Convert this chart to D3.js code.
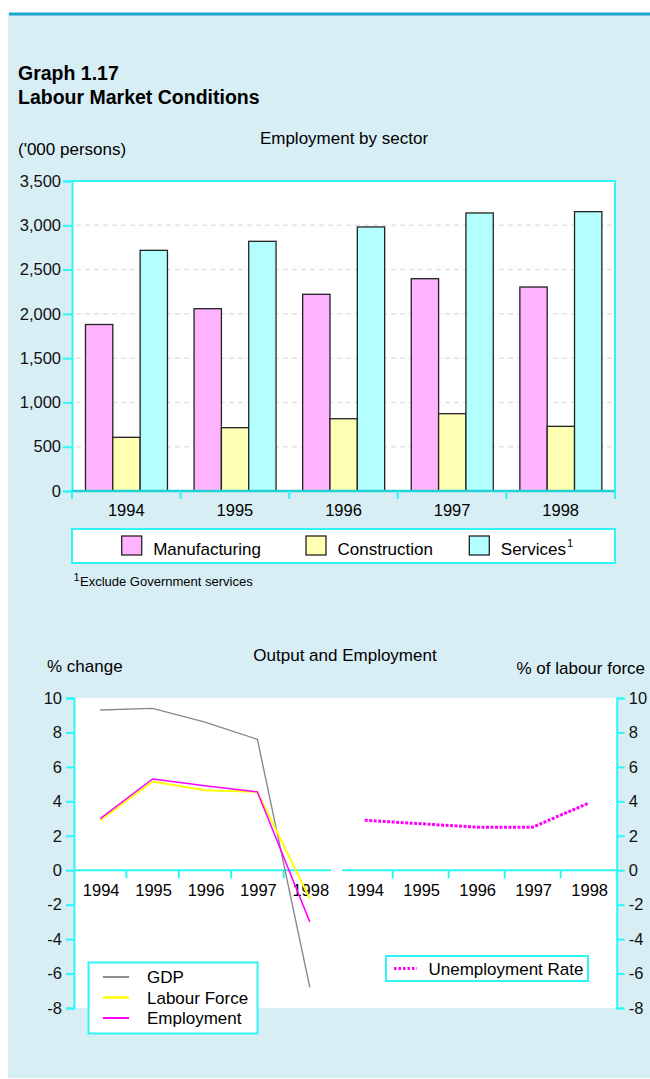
<!DOCTYPE html>
<html>
<head>
<meta charset="utf-8">
<script src="https://cdn.jsdelivr.net/npm/d3@7"></script>
<style>
  body { margin: 0; background: #fff; }
  svg { display: block; font-family: "Liberation Sans", Arial, sans-serif; }
</style>
</head>
<body>
<svg id="chart" width="650" height="1079"></svg>
<script>
// Chart values
const years = ["1994", "1995", "1996", "1997", "1998"];
const sectors = ["Manufacturing", "Construction", "Services"];
const manufacturing = [1880, 2058, 2221, 2397, 2303];
const construction = [606, 715, 816, 873, 730];
const services = [2717, 2819, 2981, 3139, 3154];
const sectorTicks = [0, 500, 1000, 1500, 2000, 2500, 3000, 3500];

const gdp = [9.3, 9.4, 8.6, 7.6, -6.8];
const labourForce = [2.9, 5.15, 4.65, 4.55, -1.65];
const employment = [3.0, 5.3, 4.9, 4.55, -3.0];
const unemployment = [2.9, 2.7, 2.5, 2.5, 3.9];
const pctTicks = [10, 8, 6, 4, 2, 0, -2, -4, -6, -8];

((() => {
  const svg = d3.select("#chart");
  const cyan = "#2ef6f6";
  const tickFont = "16.5px";
  const textFont = "17px";

  // panel background + top rule
  svg.append("rect").attr("x", 8).attr("y", 13).attr("width", 642).attr("height", 1065)
    .attr("fill", "#d8eef5");
  svg.append("line").attr("x1", 9).attr("x2", 650).attr("y1", 14).attr("y2", 14)
    .attr("stroke", "#18a4cc").attr("stroke-width", 3);

  svg.append("text").attr("x", 18).attr("y", 80).style("font-size", "19.5px")
    .style("font-weight", "bold").text("Graph 1.17");
  svg.append("text").attr("x", 18).attr("y", 104).style("font-size", "19.5px")
    .style("font-weight", "bold").text("Labour Market Conditions");

  // ---------- Employment by sector ----------
  const seriesValues = {Manufacturing: manufacturing, Construction: construction, Services: services};
  const colors = d3.scaleOrdinal().domain(sectors).range(["#ffb3ff", "#ffffb3", "#b3ffff"]);

  const x0 = d3.scaleBand().domain(years).range([72, 615]);
  const bw = x0.bandwidth();
  const x1 = d3.scaleBand().domain(sectors).range([bw * 0.124, bw * 0.879]);
  const y = d3.scaleLinear().domain([0, 3500]).range([491, 181]);

  svg.append("text").attr("x", 344).attr("y", 144).attr("text-anchor", "middle")
    .style("font-size", textFont).text("Employment by sector");
  svg.append("text").attr("x", 18).attr("y", 155).style("font-size", textFont)
    .text("('000 persons)");

  svg.append("rect").attr("x", 72).attr("y", y(3500)).attr("width", 543)
    .attr("height", y(0) - y(3500)).attr("fill", "#fff");

  // dashed grid
  svg.append("g").selectAll("line")
    .data(sectorTicks.filter(d => d > 0 && d < 3500))
    .enter().append("line")
    .attr("x1", 76).attr("x2", 613)
    .attr("y1", d => y(d)).attr("y2", d => y(d))
    .attr("stroke", "#e2e2e2").attr("stroke-width", 1.5)
    .attr("stroke-dasharray", "5,4");

  // bars
  const groups = svg.append("g").selectAll("g")
    .data(years).enter().append("g")
    .attr("transform", d => `translate(${x0(d)},0)`);
  groups.selectAll("rect")
    .data((d, i) => sectors.map(s => ({sector: s, value: seriesValues[s][i]})))
    .enter().append("rect")
    .attr("x", d => x1(d.sector))
    .attr("y", d => y(d.value))
    .attr("width", x1.bandwidth())
    .attr("height", d => y(0) - y(d.value))
    .attr("fill", d => colors(d.sector))
    .attr("stroke", "#222").attr("stroke-width", 1.3);

  // frame
  svg.append("path").attr("d", `M72,${y(3500)}H615V${y(0)}`)
    .attr("fill", "none").attr("stroke", cyan).attr("stroke-width", 2);

  // y axis
  const yAxis = svg.append("g").attr("transform", "translate(72,0)")
    .call(d3.axisLeft(y).tickValues(sectorTicks).tickFormat(d3.format(","))
      .tickSize(9).tickPadding(2));
  yAxis.select(".domain").attr("stroke", cyan).attr("stroke-width", 2);
  yAxis.selectAll(".tick line").attr("stroke", cyan).attr("stroke-width", 2);
  yAxis.selectAll("text").style("font-size", tickFont).attr("fill", "#111")
    .style("font-family", "Liberation Sans, Arial, sans-serif");

  // x axis: boundary ticks, centred labels
  svg.append("line").attr("x1", 72).attr("x2", 615).attr("y1", y(0)).attr("y2", y(0))
    .attr("stroke", "#22d2d2").attr("stroke-width", 2.5);
  svg.append("g").selectAll("line")
    .data(years.concat(["end"])).enter().append("line")
    .attr("x1", (d, i) => 72 + i * x0.step()).attr("x2", (d, i) => 72 + i * x0.step())
    .attr("y1", y(0)).attr("y2", y(0) + 8)
    .attr("stroke", cyan).attr("stroke-width", 2);
  svg.append("g").selectAll("text")
    .data(years).enter().append("text")
    .attr("x", d => x0(d) + bw / 2).attr("y", 516)
    .attr("text-anchor", "middle").style("font-size", tickFont).text(d => d);

  // legend
  svg.append("rect").attr("x", 72).attr("y", 529).attr("width", 543).attr("height", 34)
    .attr("fill", "#fff").attr("stroke", cyan).attr("stroke-width", 2);
  const legendX = [121.7, 306, 469.3];
  sectors.forEach((s, i) => {
    svg.append("rect").attr("x", legendX[i]).attr("y", 536).attr("width", 20).attr("height", 19)
      .attr("fill", colors(s)).attr("stroke", "#222").attr("stroke-width", 1.3);
    const t = svg.append("text").attr("x", legendX[i] + 31.5).attr("y", 554.5)
      .style("font-size", textFont).text(s);
    if (s === "Services") {
      t.append("tspan").attr("dx", 1).attr("dy", -8).style("font-size", "11px").text("1");
    }
  });

  svg.append("text").attr("x", 73.5).attr("y", 581).style("font-size", "11px").text("1");
  svg.append("text").attr("x", 80).attr("y", 586).style("font-size", "13px")
    .text("Exclude Government services");

  // ---------- Output and Employment ----------
  const yL = d3.scaleLinear().domain([-8, 10]).range([1008, 698]);
  const yR = d3.scaleLinear().domain([-8, 10]).range([1008, 698]);
  const xL = d3.scaleBand().domain(years).range([74, 336]);
  const xR = d3.scaleBand().domain(years).range([336.7, 616.7]);

  svg.append("text").attr("x", 345).attr("y", 661).attr("text-anchor", "middle")
    .style("font-size", textFont).text("Output and Employment");
  svg.append("text").attr("x", 47).attr("y", 672).style("font-size", textFont).text("% change");
  svg.append("text").attr("x", 645).attr("y", 674).attr("text-anchor", "end")
    .style("font-size", textFont).text("% of labour force");

  svg.append("rect").attr("x", 74).attr("y", 698).attr("width", 543).attr("height", 310)
    .attr("fill", "#fff");

  // axes (plain hyphen for negatives, as in the source)
  const pctFormat = d => String(d);
  const axL = svg.append("g").attr("transform", "translate(74,0)")
    .call(d3.axisLeft(yL).tickValues(pctTicks).tickFormat(pctFormat).tickSize(8).tickPadding(4));
  const axR = svg.append("g").attr("transform", "translate(616.7,0)")
    .call(d3.axisRight(yR).tickValues(pctTicks).tickFormat(pctFormat).tickSize(8).tickPadding(4));
  [axL, axR].forEach(ax => {
    ax.select(".domain").attr("stroke", cyan).attr("stroke-width", 2);
    ax.selectAll(".tick line").attr("stroke", cyan).attr("stroke-width", 2);
    ax.selectAll("text").style("font-size", tickFont).attr("fill", "#111")
      .style("font-family", "Liberation Sans, Arial, sans-serif");
  });

  // zero lines with a gap between the panels
  svg.append("line").attr("x1", 74).attr("x2", 331).attr("y1", yL(0)).attr("y2", yL(0))
    .attr("stroke", cyan).attr("stroke-width", 2);
  svg.append("line").attr("x1", 342).attr("x2", 617).attr("y1", yR(0)).attr("y2", yR(0))
    .attr("stroke", cyan).attr("stroke-width", 2);

  [[xL, 1, 4], [xR, 1, 5]].forEach(([sc, from, to]) => {
    svg.append("g").selectAll("line")
      .data(d3.range(from, to + 1)).enter().append("line")
      .attr("x1", i => sc.range()[0] + i * sc.step()).attr("x2", i => sc.range()[0] + i * sc.step())
      .attr("y1", yL(0)).attr("y2", yL(0) + 8)
      .attr("stroke", cyan).attr("stroke-width", 2);
    svg.append("g").selectAll("text")
      .data(years).enter().append("text")
      .attr("x", d => sc(d) + sc.bandwidth() / 2 + 1).attr("y", 896)
      .attr("text-anchor", "middle").style("font-size", tickFont).text(d => d);
  });

  // lines
  const lineL = d3.line().x((d, i) => xL(years[i]) + xL.bandwidth() / 2).y(d => yL(d));
  const lineR = d3.line().x((d, i) => xR(years[i]) + xR.bandwidth() / 2).y(d => yR(d));

  const leftSeries = [
    {name: "GDP", values: gdp, color: "#888", width: 1.4},
    {name: "Labour Force", values: labourForce, color: "#ffff00", width: 2},
    {name: "Employment", values: employment, color: "#ff00ff", width: 1.5}
  ];
  leftSeries.forEach(s => {
    svg.append("path").datum(s.values).attr("d", lineL)
      .attr("fill", "none").attr("stroke", s.color).attr("stroke-width", s.width);
  });
  svg.append("path").datum(unemployment).attr("d", lineR)
    .attr("fill", "none").attr("stroke", "#ff00ff").attr("stroke-width", 3)
    .attr("stroke-dasharray", "3,1.5");

  // legends
  svg.append("rect").attr("x", 88.5).attr("y", 962.5).attr("width", 169).attr("height", 71)
    .attr("fill", "#fff").attr("stroke", cyan).attr("stroke-width", 2);
  leftSeries.forEach((s, i) => {
    const ly = 977 + i * 20.5;
    svg.append("line").attr("x1", 103).attr("x2", 129).attr("y1", ly).attr("y2", ly)
      .attr("stroke", s.color).attr("stroke-width", s.width + 0.5);
    svg.append("text").attr("x", 147).attr("y", ly + 6.2).style("font-size", textFont).text(s.name);
  });

  svg.append("rect").attr("x", 386).attr("y", 956).attr("width", 202).attr("height", 25)
    .attr("fill", "#fff").attr("stroke", cyan).attr("stroke-width", 2);
  svg.append("line").attr("x1", 394).attr("x2", 417).attr("y1", 968.5).attr("y2", 968.5)
    .attr("stroke", "#ff00ff").attr("stroke-width", 3).attr("stroke-dasharray", "2.5,2");
  svg.append("text").attr("x", 428.5).attr("y", 974.5).style("font-size", textFont)
    .text("Unemployment Rate");
})());
</script>
</body>
</html>
